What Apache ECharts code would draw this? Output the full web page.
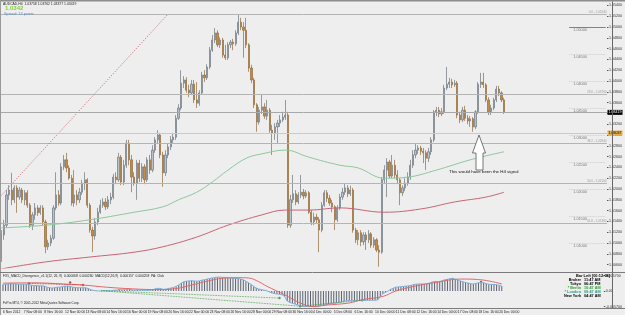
<!DOCTYPE html>
<html><head><meta charset="utf-8">
<script src="https://cdn.jsdelivr.net/npm/echarts@6/dist/echarts.min.js"></script>
<style>html,body{margin:0;padding:0;background:#eeeeee;}#c{width:625px;height:315px;}</style>
</head><body><div id="c"></div>
<script>
const titleText = 'AUDCAD,H4  1.03758 1.03762 1.03377 1.03419';
const lastPriceText = '1.0342';
const spreadText = 'Spread: 13 points';
const tickLabels = ['6 Nov 2012','7 Nov 08:00','8 Nov 16:00','12 Nov 00:00','13 Nov 08:00','14 Nov 16:00','16 Nov 00:00','19 Nov 08:00','20 Nov 16:00','22 Nov 00:00','23 Nov 08:00','26 Nov 16:00','28 Nov 00:00','29 Nov 08:00','30 Nov 16:00','4 Dec 00:00','5 Dec 08:00','6 Dec 16:00','10 Dec 00:00','11 Dec 08:00','12 Dec 16:00','14 Dec 00:00','17 Dec 08:00','18 Dec 16:00','20 Dec 00:00'];
// [open, close, low, high]
const candles = [
[1.0074,1.0115,1.0065,1.0124],[1.0115,1.0133,1.0106,1.0143],[1.0133,1.0189,1.0128,1.0198],[1.0189,1.0198,1.0180,1.0207],[1.0198,1.0180,1.0170,1.0230],[1.0180,1.0202,1.0174,1.0207],[1.0202,1.0185,1.0156,1.0207],[1.0185,1.0198,1.0180,1.0204],
[1.0198,1.0180,1.0174,1.0202],[1.0180,1.0193,1.0170,1.0198],[1.0193,1.0170,1.0165,1.0198],[1.0170,1.0133,1.0128,1.0174],[1.0133,1.0152,1.0124,1.0157],[1.0152,1.0165,1.0143,1.0174],[1.0165,1.0156,1.0150,1.0170],[1.0156,1.0165,1.0152,1.0170],
[1.0165,1.0139,1.0133,1.0170],[1.0139,1.0093,1.0081,1.0143],[1.0093,1.0100,1.0087,1.0106],[1.0100,1.0109,1.0094,1.0115],[1.0109,1.0165,1.0106,1.0170],[1.0165,1.0189,1.0161,1.0231],[1.0189,1.0174,1.0169,1.0198],[1.0174,1.0241,1.0170,1.0248],
[1.0241,1.0254,1.0235,1.0263],[1.0254,1.0239,1.0231,1.0267],[1.0239,1.0220,1.0217,1.0244],[1.0220,1.0174,1.0169,1.0226],[1.0174,1.0189,1.0167,1.0235],[1.0189,1.0180,1.0170,1.0198],[1.0180,1.0194,1.0174,1.0202],[1.0194,1.0211,1.0189,1.0217],
[1.0211,1.0217,1.0198,1.0231],[1.0217,1.0170,1.0165,1.0220],[1.0170,1.0124,1.0119,1.0174],[1.0124,1.0113,1.0083,1.0130],[1.0113,1.0139,1.0106,1.0146],[1.0139,1.0157,1.0133,1.0165],[1.0157,1.0170,1.0154,1.0180],[1.0170,1.0176,1.0165,1.0183],
[1.0176,1.0167,1.0161,1.0183],[1.0167,1.0180,1.0163,1.0187],[1.0180,1.0185,1.0172,1.0193],[1.0185,1.0222,1.0181,1.0228],[1.0222,1.0217,1.0209,1.0231],[1.0217,1.0259,1.0213,1.0267],[1.0259,1.0213,1.0207,1.0263],[1.0213,1.0244,1.0207,1.0254],
[1.0244,1.0285,1.0239,1.0291],[1.0285,1.0254,1.0244,1.0291],[1.0254,1.0222,1.0194,1.0263],[1.0222,1.0211,1.0206,1.0231],[1.0211,1.0248,1.0180,1.0254],[1.0248,1.0220,1.0213,1.0254],[1.0220,1.0241,1.0213,1.0248],[1.0241,1.0217,1.0209,1.0246],
[1.0217,1.0254,1.0213,1.0259],[1.0254,1.0235,1.0228,1.0263],[1.0235,1.0272,1.0231,1.0281],[1.0272,1.0291,1.0267,1.0296],[1.0291,1.0300,1.0285,1.0309],[1.0300,1.0263,1.0257,1.0304],[1.0263,1.0230,1.0204,1.0269],[1.0230,1.0263,1.0224,1.0272],
[1.0263,1.0278,1.0257,1.0285],[1.0278,1.0291,1.0272,1.0298],[1.0291,1.0296,1.0285,1.0304],[1.0296,1.0331,1.0291,1.0337],[1.0331,1.0350,1.0328,1.0357],[1.0350,1.0396,1.0346,1.0420],[1.0396,1.0402,1.0387,1.0409],[1.0402,1.0383,1.0378,1.0407],
[1.0383,1.0378,1.0370,1.0393],[1.0378,1.0394,1.0374,1.0402],[1.0394,1.0365,1.0359,1.0402],[1.0365,1.0359,1.0350,1.0398],[1.0359,1.0378,1.0354,1.0383],[1.0378,1.0411,1.0374,1.0417],[1.0411,1.0406,1.0398,1.0420],[1.0406,1.0426,1.0402,1.0431],
[1.0426,1.0457,1.0422,1.0463],[1.0457,1.0476,1.0454,1.0485],[1.0476,1.0489,1.0470,1.0498],[1.0489,1.0467,1.0463,1.0494],[1.0467,1.0476,1.0461,1.0481],[1.0476,1.0448,1.0443,1.0480],[1.0448,1.0443,1.0439,1.0467],[1.0443,1.0467,1.0439,1.0472],
[1.0467,1.0472,1.0461,1.0476],[1.0472,1.0469,1.0457,1.0478],[1.0469,1.0489,1.0465,1.0494],[1.0489,1.0509,1.0485,1.0522],[1.0509,1.0500,1.0494,1.0517],[1.0500,1.0494,1.0443,1.0509],[1.0494,1.0467,1.0461,1.0517],[1.0467,1.0424,1.0417,1.0470],
[1.0424,1.0402,1.0396,1.0430],[1.0402,1.0356,1.0350,1.0406],[1.0356,1.0324,1.0306,1.0359],[1.0324,1.0346,1.0319,1.0352],[1.0346,1.0352,1.0339,1.0374],[1.0352,1.0335,1.0330,1.0359],[1.0335,1.0346,1.0328,1.0365],[1.0346,1.0309,1.0304,1.0350],
[1.0309,1.0304,1.0263,1.0319],[1.0304,1.0315,1.0291,1.0322],[1.0315,1.0322,1.0285,1.0328],[1.0322,1.0328,1.0315,1.0337],[1.0328,1.0333,1.0324,1.0343],[1.0333,1.0337,1.0328,1.0365],[1.0337,1.0133,1.0128,1.0343],[1.0133,1.0180,1.0128,1.0189],
[1.0180,1.0191,1.0174,1.0226],[1.0191,1.0176,1.0170,1.0198],[1.0176,1.0189,1.0172,1.0194],[1.0189,1.0194,1.0183,1.0226],[1.0194,1.0187,1.0181,1.0200],[1.0187,1.0193,1.0183,1.0198],[1.0193,1.0157,1.0154,1.0196],[1.0157,1.0139,1.0133,1.0161],
[1.0139,1.0148,1.0133,1.0156],[1.0148,1.0143,1.0135,1.0154],[1.0143,1.0124,1.0083,1.0148],[1.0124,1.0170,1.0120,1.0176],[1.0170,1.0193,1.0167,1.0198],[1.0193,1.0183,1.0176,1.0198],[1.0183,1.0174,1.0169,1.0189],[1.0174,1.0167,1.0157,1.0180],
[1.0167,1.0143,1.0124,1.0170],[1.0143,1.0165,1.0139,1.0170],[1.0165,1.0185,1.0161,1.0191],[1.0185,1.0194,1.0180,1.0202],[1.0194,1.0202,1.0189,1.0211],[1.0202,1.0191,1.0185,1.0207],[1.0191,1.0198,1.0187,1.0206],[1.0198,1.0124,1.0119,1.0202],
[1.0124,1.0106,1.0100,1.0128],[1.0106,1.0119,1.0096,1.0124],[1.0119,1.0102,1.0094,1.0124],[1.0102,1.0115,1.0096,1.0120],[1.0115,1.0106,1.0087,1.0120],[1.0106,1.0117,1.0100,1.0124],[1.0117,1.0096,1.0091,1.0120],[1.0096,1.0106,1.0091,1.0111],
[1.0106,1.0087,1.0083,1.0109],[1.0087,1.0083,1.0056,1.0096],[1.0083,1.0217,1.0080,1.0222],[1.0217,1.0235,1.0211,1.0244],[1.0235,1.0250,1.0185,1.0257],[1.0250,1.0224,1.0220,1.0254],[1.0224,1.0244,1.0220,1.0263],[1.0244,1.0226,1.0220,1.0254],
[1.0226,1.0217,1.0209,1.0235],[1.0217,1.0193,1.0170,1.0220],[1.0193,1.0202,1.0187,1.0207],[1.0202,1.0211,1.0196,1.0220],[1.0211,1.0222,1.0206,1.0231],[1.0222,1.0244,1.0217,1.0254],[1.0244,1.0263,1.0239,1.0272],[1.0263,1.0272,1.0257,1.0285],
[1.0272,1.0276,1.0265,1.0281],[1.0276,1.0270,1.0263,1.0280],[1.0270,1.0267,1.0248,1.0276],[1.0267,1.0257,1.0235,1.0272],[1.0257,1.0269,1.0250,1.0276],[1.0269,1.0291,1.0263,1.0296],[1.0291,1.0343,1.0287,1.0346],[1.0343,1.0346,1.0335,1.0352],
[1.0346,1.0339,1.0333,1.0352],[1.0339,1.0343,1.0335,1.0350],[1.0343,1.0387,1.0339,1.0393],[1.0387,1.0394,1.0383,1.0426],[1.0394,1.0398,1.0387,1.0406],[1.0398,1.0393,1.0387,1.0404],[1.0393,1.0396,1.0389,1.0402],[1.0396,1.0337,1.0331,1.0400],
[1.0337,1.0328,1.0322,1.0343],[1.0328,1.0346,1.0324,1.0352],[1.0346,1.0331,1.0326,1.0354],[1.0331,1.0326,1.0320,1.0337],[1.0326,1.0330,1.0315,1.0335],[1.0330,1.0315,1.0306,1.0333],[1.0315,1.0343,1.0311,1.0346],[1.0343,1.0394,1.0339,1.0398],
[1.0394,1.0398,1.0387,1.0415],[1.0398,1.0393,1.0387,1.0415],[1.0393,1.0365,1.0361,1.0396],[1.0365,1.0343,1.0337,1.0370],[1.0343,1.0350,1.0337,1.0356],[1.0350,1.0365,1.0346,1.0369],[1.0365,1.0385,1.0361,1.0391],[1.0385,1.0378,1.0372,1.0391],
[1.0378,1.0365,1.0361,1.0381],[1.0365,1.0342,1.0339,1.0369]
];
const macd = [
0.0024,0.0025,0.0026,0.0027,0.0026,0.0026,0.0025,0.0025,
0.0025,0.0025,0.0024,0.0021,0.0020,0.0020,0.0019,0.0019,
0.0018,0.0014,0.0012,0.0011,0.0012,0.0014,0.0014,0.0016,
0.0018,0.0018,0.0017,0.0014,0.0013,0.0012,0.0012,0.0012,
0.0012,0.0009,0.0005,0.0002,0.0001,0.0000,0.0000,0.0001,
0.0001,0.0001,0.0001,0.0003,0.0003,0.0006,0.0004,0.0005,
0.0008,0.0007,0.0004,0.0003,0.0004,0.0003,0.0003,0.0002,
0.0003,0.0003,0.0005,0.0008,0.0010,0.0009,0.0006,0.0007,
0.0009,0.0011,0.0013,0.0017,0.0022,0.0029,0.0034,0.0036,
0.0037,0.0038,0.0037,0.0036,0.0037,0.0040,0.0041,0.0044,
0.0046,0.0048,0.0050,0.0051,0.0051,0.0050,0.0050,0.0049,
0.0048,0.0047,0.0046,0.0046,0.0044,0.0041,0.0036,0.0030,
0.0024,0.0017,0.0011,0.0007,0.0005,0.0003,0.0001,-0.0003,
-0.0007,-0.0009,-0.0011,-0.0012,-0.0014,-0.0020,-0.0037,-0.0042,
-0.0045,-0.0048,-0.0051,-0.0055,-0.0056,-0.0057,-0.0057,-0.0057,
-0.0057,-0.0057,-0.0056,-0.0054,-0.0052,-0.0050,-0.0048,-0.0046,
-0.0045,-0.0044,-0.0042,-0.0040,-0.0038,-0.0036,-0.0035,-0.0036,
-0.0036,-0.0035,-0.0035,-0.0035,-0.0035,-0.0034,-0.0034,-0.0034,
-0.0034,-0.0033,-0.0020,-0.0010,-0.0005,0.0000,0.0006,0.0010,
0.0014,0.0015,0.0016,0.0017,0.0018,0.0019,0.0021,0.0024,
0.0025,0.0026,0.0026,0.0026,0.0027,0.0029,0.0033,0.0035,
0.0035,0.0035,0.0038,0.0041,0.0043,0.0045,0.0047,0.0043,
0.0040,0.0037,0.0034,0.0031,0.0029,0.0027,0.0026,0.0028,
0.0030,0.0031,0.0030,0.0027,0.0025,0.0024,0.0024,0.0023,
0.0021,0.0018
];
const signalLine = [[0,0.0029],[12,0.0030],[23,0.0026],[31,0.0022],[40,0.0014],[50,0.0008],[60,0.0005],[67,0.0009],[73,0.0022],[79,0.0036],[85,0.0047],[91,0.0049],[95,0.0048],[99,0.0034],[102,0.0018],[109,-0.0014],[115,-0.0044],[120,-0.0057],[125,-0.0052],[134,-0.0044],[139,-0.0032],[147,-0.0020],[152,0.0000],[159,0.0017],[168,0.0032],[177,0.0044],[186,0.0040],[193,0.0026]];
const maGreen = [[0,1.0128],[17,1.0133],[34,1.0143],[51,1.0157],[62,1.0167],[68,1.0180],[75,1.0194],[81,1.0213],[87,1.0235],[94,1.0257],[100,1.0265],[109,1.0272],[118,1.0259],[130,1.0244],[137,1.0239],[147,1.0220],[156,1.0222],[167,1.0235],[180,1.0254],[193,1.0269]];
const maRed = [[0,1.0052],[17,1.0065],[34,1.0074],[51,1.0083],[62,1.0093],[75,1.0111],[87,1.0133],[100,1.0152],[109,1.0161],[118,1.0161],[130,1.0165],[147,1.0157],[161,1.0163],[174,1.0176],[186,1.0185],[193,1.0194]];
const fibLevels = ['0.0','23.6','38.2','50.0','61.8'];
const fibPrices = [1.0524,1.0376,1.0284,1.0210,1.0136];
const fibTrend = [[0,1.0188],[64,1.0524]];
const roundLevels = [1.050,1.045,1.040,1.035,1.030,1.025,1.020,1.015,1.010,1.005];
const roundSpan = [218,232];
const bidPrice = 1.03419;
const supportPrice = 1.03037;
const greenDiv = [[[38,0.0001],[107,-0.0026]],[[38,0.0001],[115,-0.0056]],[[115,-0.0056],[139,-0.0034]]];
const greenDots = [[107,-0.0026],[115,-0.0056],[139,-0.0034]];
const redDiv = [[[10,0.0028],[31,0.0022]]];
const redDots = [[10,0.0028],[26,0.0031],[31,0.0022],[185,0.0033]];
const macdHeader = 'FX5_MACD_Divergence_v1.1(12, 26, 9)  0.000068  0.000260  MACD(12,26,9)  0.000157  0.000258  PA: Click';
const copyright = 'FxPro MT4, \u00a9 2001-2012 MetaQuotes Software Corp.';
const annotation = 'This would have been the H4 signal';
const barLeft = 'Bar Left [00:12:08]';
const clockRows = [['Broker','11:47 AM','#000'],['Tokyo','06:47 PM','#000'],['* Berlin','10:47 AM','#2e9a2e'],['* London','09:47 AM','#2a9a8a'],['New York','04:47 AM','#000']];
const slotCount = 233;

const FF = 'Liberation Sans';
const slots = Array.from({length: slotCount}, (_, i) => String(i));
const chart = echarts.init(document.getElementById('c'), null, {renderer: 'canvas'});

function txt(x, y, text, size, fill, extra) {
  return Object.assign({type: 'text', z: 100, silent: true,
    style: Object.assign({x: x, y: y, text: text, fontSize: size, fontFamily: FF, fill: fill, verticalAlign: 'middle', align: 'left'}, extra || {})});
}
function hline(x1, y, x2, color, w) {
  return {type: 'line', z: 90, silent: true, shape: {x1: x1, y1: y, x2: x2, y2: y}, style: {stroke: color, lineWidth: w || 1}};
}

const graphics = [
  {type: 'rect', z: 90, silent: true, shape: {x: 0, y: 0, width: 625, height: 1.5}, style: {fill: '#8c8c8c'}},
  {type: 'line', z: 90, silent: true, shape: {x1: 0.5, y1: 0, x2: 0.5, y2: 315}, style: {stroke: '#9a9a9a', lineWidth: 1}},
  {type: 'line', z: 90, silent: true, shape: {x1: 612.5, y1: 1.5, x2: 612.5, y2: 308.5}, style: {stroke: '#666', lineWidth: 1}},
  hline(0, 272.5, 625, '#7a7a7a', 1),
  hline(0, 308.5, 625, '#7a7a7a', 1),
  txt(3, 4, titleText, 3.4, '#222'),
  txt(5, 8.6, lastPriceText, 6, '#7fd13b', {fontWeight: 'bold'}),
  txt(4, 13.7, spreadText, 3.8, '#5a8fc8'),
  {type: 'polygon', z: 100, silent: true,
    shape: {points: [[479, 135], [485.5, 153], [483, 153], [483, 170], [476, 170], [476, 153], [472.5, 153]]},
    style: {fill: '#ffffff', stroke: '#555', lineWidth: 0.8}},
  txt(449, 172, annotation, 4.4, '#111'),
  txt(3, 276.2, macdHeader, 3.3, '#222'),
  txt(3, 303.4, copyright, 3.2, '#222'),
  txt(610, 276, barLeft, 3.9, '#000', {align: 'right', fontWeight: 'bold'})
];
clockRows.forEach((r, i) => {
  const y = 280.2 + i * 3.9;
  graphics.push(txt(581, y, r[0], 3.8, r[2], {align: 'right', fontWeight: 'bold'}));
  graphics.push(txt(584, y, r[1], 3.8, r[2], {fontWeight: 'bold'}));
});

const fibLines = fibPrices.map((p, i) => ({
  yAxis: p,
  label: {formatter: fibLevels[i] + ' - ' + p.toFixed(5)}
}));
const roundDotted = roundLevels.map(p => [
  {coord: [roundSpan[0], p], label: {formatter: p.toFixed(5)}},
  {coord: [roundSpan[1], p]}
]);

const option = {
  animation: false,
  backgroundColor: '#eeeeee',
  grid: [
    {left: 0, top: 4, width: 612, height: 264},
    {left: 0, top: 275.5, width: 612, height: 31}
  ],
  xAxis: [
    {type: 'category', gridIndex: 0, data: slots, boundaryGap: true,
      axisLine: {show: false}, axisTick: {show: false}, axisLabel: {show: false}, splitLine: {show: false}},
    {type: 'category', gridIndex: 1, data: slots, boundaryGap: true,
      axisLine: {show: false}, axisTick: {show: false}, splitLine: {show: false},
      axisLabel: {show: true, interval: 7, align: 'left', margin: 4, fontSize: 3.4, color: '#222', fontFamily: FF,
        hideOverlap: false,
        formatter: (v, idx) => (idx % 8 === 0 && idx / 8 < tickLabels.length) ? tickLabels[idx / 8] : ''}}
  ],
  yAxis: [
    {type: 'value', gridIndex: 0, position: 'right', min: 1.00537, max: 1.05426, splitNumber: 24,
      axisLine: {show: false}, splitLine: {show: false},
      axisTick: {show: true, length: 1.5, lineStyle: {color: '#555'}},
      axisLabel: {fontSize: 3.6, margin: 2, color: '#333', fontFamily: FF, showMinLabel: false, showMaxLabel: false,
        formatter: v => v.toFixed(5)}},
    {type: 'value', gridIndex: 1, position: 'right', min: -0.0057, max: 0.0057, interval: 0.0057,
      axisLine: {show: false}, splitLine: {show: false},
      axisTick: {show: true, length: 1.5, lineStyle: {color: '#555'}},
      axisLabel: {fontSize: 3.6, margin: 2, color: '#333', fontFamily: FF,
        formatter: v => Math.abs(v) < 1e-9 ? '0.00' : v.toFixed(6)}}
  ],
  series: [
    {type: 'line', xAxisIndex: 0, yAxisIndex: 0, data: [], silent: true,
      markLine: {silent: true, precision: 6, symbol: ['none', 'none'], animation: false,
        lineStyle: {color: '#b4b4b4', width: 1, type: 'solid'},
        label: {position: 'insideEndTop', fontSize: 3, color: '#9a9a9a', fontFamily: FF, distance: 0.5},
        data: fibLines}},
    {type: 'line', xAxisIndex: 0, yAxisIndex: 0, data: [], silent: true,
      markLine: {silent: true, precision: 6, symbol: ['none', 'none'], animation: false,
        lineStyle: {color: '#c4c4c4', width: 0.8, type: 'dotted'},
        label: {position: 'insideStartBottom', fontSize: 3.8, color: '#7a7a7a', fontFamily: FF, distance: [4, 1]},
        data: roundDotted}},
    {type: 'line', xAxisIndex: 0, yAxisIndex: 0, data: [], silent: true,
      markLine: {silent: true, precision: 6, symbol: ['none', 'none'], animation: false,
        data: [
          [{coord: [roundSpan[0], roundLevels[0]], lineStyle: {color: '#c06868', width: 1, type: 'solid'}, label: {show: false}}, {coord: [roundSpan[1], roundLevels[0]]}],
          [{coord: fibTrend[0], lineStyle: {color: '#cc5f72', width: 0.9, type: [1.2, 1.6]}, label: {show: false}}, {coord: fibTrend[1]}]
        ]}},
    {type: 'line', xAxisIndex: 0, yAxisIndex: 0, data: [], silent: true,
      markLine: {silent: true, precision: 6, symbol: ['none', 'none'], animation: false,
        data: [
          {yAxis: supportPrice, lineStyle: {color: '#e6c68c', width: 1, type: 'solid'},
            label: {position: 'end', formatter: supportPrice.toFixed(5), backgroundColor: '#e2b04a', color: '#000', fontSize: 3.6, padding: [0.5, 1], distance: 0.5, fontFamily: FF}},
          {yAxis: bidPrice, lineStyle: {color: '#a8a8a8', width: 1, type: 'solid'},
            label: {position: 'end', formatter: bidPrice.toFixed(5), backgroundColor: '#000', color: '#fff', fontSize: 3.6, padding: [0.5, 1], distance: 0.5, fontFamily: FF}}
        ]}},
    {type: 'line', xAxisIndex: 0, yAxisIndex: 0, data: maGreen, smooth: 0.4, symbol: 'none',
      lineStyle: {color: '#8ec89c', width: 1}, silent: true},
    {type: 'line', xAxisIndex: 0, yAxisIndex: 0, data: maRed, smooth: 0.4, symbol: 'none',
      lineStyle: {color: '#c86474', width: 1}, silent: true},
    {type: 'candlestick', xAxisIndex: 0, yAxisIndex: 0, data: candles, barWidth: 1.7, silent: true,
      itemStyle: {color: '#b9c1c9', color0: '#c98a3e', borderColor: '#6c757e', borderColor0: '#8f6a3a', borderWidth: 0.7}},
    {type: 'bar', xAxisIndex: 1, yAxisIndex: 1, data: macd, barWidth: 0.8, silent: true,
      itemStyle: {color: '#5b6270'}},
    {type: 'line', xAxisIndex: 1, yAxisIndex: 1, data: macd, symbol: 'none', silent: true,
      lineStyle: {color: '#7db0e0', width: 1}},
    {type: 'line', xAxisIndex: 1, yAxisIndex: 1, data: signalLine, smooth: 0.4, symbol: 'none', silent: true,
      lineStyle: {color: '#e06a6a', width: 1}},
    {type: 'line', xAxisIndex: 1, yAxisIndex: 1, data: [], silent: true,
      markLine: {silent: true, precision: 6, symbol: ['none', 'none'], animation: false, label: {show: false},
        data: greenDiv.map(s => [{coord: s[0], lineStyle: {color: '#3a9a3a', width: 0.8, type: 'dotted'}}, {coord: s[1]}])
          .concat(redDiv.map(s => [{coord: s[0], lineStyle: {color: '#c03030', width: 0.8, type: 'dotted'}}, {coord: s[1]}]))}},
    {type: 'scatter', xAxisIndex: 1, yAxisIndex: 1, data: greenDots, symbolSize: 2.4, silent: true,
      itemStyle: {color: '#2e8b2e'}},
    {type: 'scatter', xAxisIndex: 1, yAxisIndex: 1, data: redDots, symbolSize: 2.4, silent: true,
      itemStyle: {color: '#c02020'}}
  ],
  graphic: graphics
};
chart.setOption(option);
</script>
</body></html>
